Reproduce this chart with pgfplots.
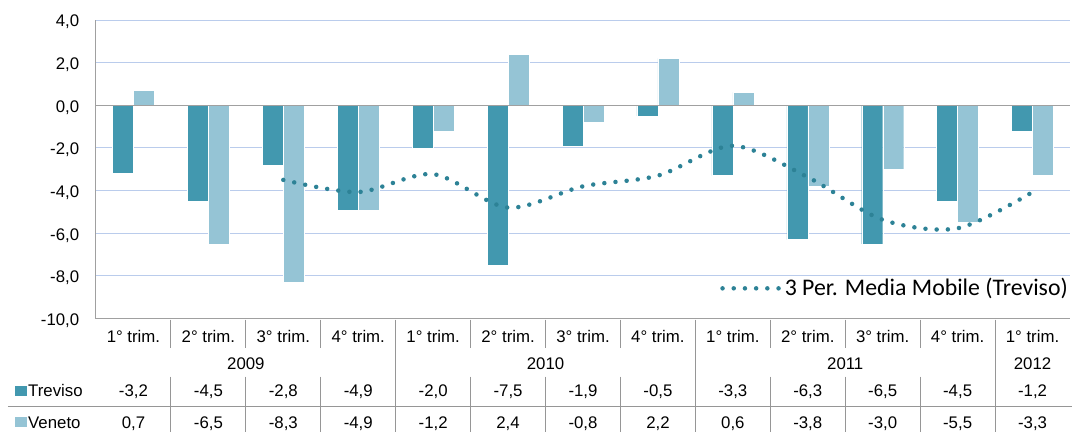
\documentclass[border=0pt]{standalone}
\usepackage{pgfplots}
\pgfplotsset{compat=1.18}
\usepackage{fontspec}
\setmainfont{Liberation Sans}
\newfontfamily\calibri{Carlito}
\definecolor{trev}{RGB}{66,152,175}
\definecolor{vene}{RGB}{149,196,213}
\definecolor{mac}{RGB}{45,130,150}
\definecolor{gridc}{RGB}{186,204,236}
\definecolor{axc}{RGB}{160,160,160}
\definecolor{tabc}{RGB}{150,150,150}
\newcommand\fmt[1]{\pgfmathprintnumber[use comma,fixed,fixed zerofill,precision=1,assume math mode=true]{#1}}
\begin{document}
\fontsize{16.8}{19}\selectfont
\begin{tikzpicture}
\begin{axis}[
  name=ax,
  scale only axis, width=974pt, height=298.5pt,
  xmin=0.5, xmax=13.5, ymin=-10, ymax=4,
  ytick={-10,-8,-6,-4,-2,0,2,4},
  xtick=\empty,
  ymajorgrids, grid style={gridc, line width=0.9pt},
  axis x line*=bottom, axis y line*=left,
  axis line style={axc, line width=1pt, -},
  major tick length=0pt,
  yticklabel style={/pgf/number format/.cd, use comma, fixed, fixed zerofill, precision=1, assume math mode=true, /tikz/.cd, font=\fontsize{16.8}{19}\selectfont, xshift=-11pt, yshift=-2pt},
  clip=false,
  legend style={at={(rel axis cs:1,0)}, anchor=south east, yshift=18pt, draw=none, fill=none,
    font=\calibri\fontsize{23.8}{27}\selectfont, inner sep=0pt},
  legend image code/.code={\draw[#1] (0pt,0pt) -- (58pt,0pt);},
]
\addplot[ybar, bar width=21pt, bar shift=-10.5pt, fill=trev, draw=white, line width=0.4pt, forget plot]
 coordinates {(1,-3.2) (2,-4.5) (3,-2.8) (4,-4.9) (5,-2.0) (6,-7.5) (7,-1.9) (8,-0.5) (9,-3.3) (10,-6.3) (11,-6.5) (12,-4.5) (13,-1.2)};
\addplot[ybar, bar width=21pt, bar shift=10.5pt, fill=vene, draw=white, line width=0.4pt, forget plot]
 coordinates {(1,0.7) (2,-6.5) (3,-8.3) (4,-4.9) (5,-1.2) (6,2.4) (7,-0.8) (8,2.2) (9,0.6) (10,-3.8) (11,-3.0) (12,-5.5) (13,-3.3)};
\draw[axc, line width=1pt] (axis cs:0.5,0) -- (axis cs:13.5,0);
\addplot[mac, line width=4.5pt, line cap=round, dash pattern=on 0pt off 11.2pt, smooth, mark=none]
 coordinates {(3,-3.50) (4,-4.07) (5,-3.23) (6,-4.80) (7,-3.80) (8,-3.30) (9,-1.90) (10,-3.37) (11,-5.37) (12,-5.77) (13,-4.07)};
\addlegendentry{3 Per. Media Mobile (Treviso)}
\pgfplotsextra{
  \foreach \x in {1.5,2.5,3.5,5.5,6.5,7.5,9.5,10.5,11.5} {
    \draw[tabc, line width=1pt] ([yshift=-1pt]axis cs:\x,-10) -- ([yshift=-29pt]axis cs:\x,-10);
    \draw[tabc, line width=1pt] ([yshift=-58pt]axis cs:\x,-10) -- ([yshift=-113pt]axis cs:\x,-10);
  }
  \foreach \x in {4.5,8.5,12.5}
    \draw[tabc, line width=1pt] ([yshift=-1pt]axis cs:\x,-10) -- ([yshift=-113pt]axis cs:\x,-10);
  \draw[tabc, line width=1pt] ([xshift=-88pt,yshift=-88pt]axis cs:0.5,-10) -- ([xshift=2pt,yshift=-88pt]axis cs:13.5,-10);
  \foreach \x/\q/\a/\b in {1/1/-3.2/0.7, 2/2/-4.5/-6.5, 3/3/-2.8/-8.3, 4/4/-4.9/-4.9, 5/1/-2.0/-1.2, 6/2/-7.5/2.4, 7/3/-1.9/-0.8, 8/4/-0.5/2.2, 9/1/-3.3/0.6, 10/2/-6.3/-3.8, 11/3/-6.5/-3.0, 12/4/-4.5/-5.5, 13/1/-1.2/-3.3} {
    \node[anchor=base, inner sep=0pt] at ([yshift=-24pt]axis cs:\x,-10) {\q° trim.};
    \node[anchor=base, inner sep=0pt] at ([yshift=-78pt]axis cs:\x,-10) {\fmt{\a}};
    \node[anchor=base, inner sep=0pt] at ([yshift=-110pt]axis cs:\x,-10) {\fmt{\b}};
  }
  \foreach \x/\y in {2.5/2009, 6.5/2010, 10.5/2011, 13/2012}
    \node[anchor=base, inner sep=0pt] at ([yshift=-51pt]axis cs:\x,-10) {\y};
  \fill[trev] ([xshift=-81pt,yshift=-77pt]axis cs:0.5,-10) rectangle ([xshift=-69pt,yshift=-67pt]axis cs:0.5,-10);
  \fill[vene] ([xshift=-81pt,yshift=-108.5pt]axis cs:0.5,-10) rectangle ([xshift=-69pt,yshift=-98.5pt]axis cs:0.5,-10);
  \node[anchor=base west, inner sep=0pt] at ([xshift=-68pt,yshift=-78pt]axis cs:0.5,-10) {Treviso};
  \node[anchor=base west, inner sep=0pt] at ([xshift=-68pt,yshift=-110pt]axis cs:0.5,-10) {Veneto};
}
\end{axis}
\pgfresetboundingbox
\path ([shift={(-96pt,-113pt)}]ax.south west) rectangle ([shift={(2pt,20pt)}]ax.north east);
\end{tikzpicture}
\end{document}
